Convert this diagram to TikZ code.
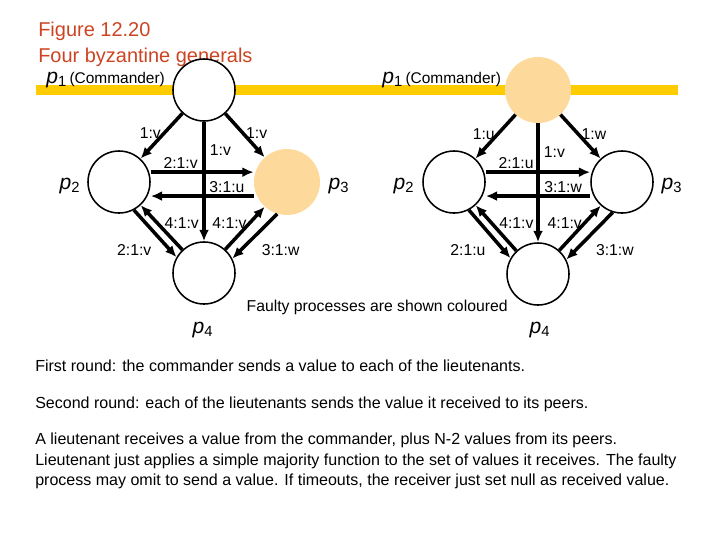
\documentclass[tikz,border=0pt]{standalone}
\usepackage{fontspec}
\setmainfont{Liberation Sans}
\usetikzlibrary{arrows.meta,positioning}
\definecolor{titlered}{RGB}{204,68,34}
\definecolor{bargold}{RGB}{255,204,0}
\definecolor{faultfill}{RGB}{253,218,155}
\begin{document}
\begin{tikzpicture}[x=0.025cm, y=-0.025cm, >={Latex[length=8pt,width=7pt]},
    proc/.style={draw, circle, line width=1.1pt, fill=white, minimum size=1.55cm, inner sep=0pt},
    faulty/.style={circle, fill=faultfill, minimum size=1.65cm, inner sep=0pt},
    msg/.style={->, line width=2.5pt},
    lbl/.style={font=\fontsize{11.2}{13}\selectfont, inner sep=1pt},
    pname/.style={font=\fontsize{15}{17}\selectfont, inner sep=0pt},
    txt/.style={font=\fontsize{11.4}{14.6}\selectfont, align=left, anchor=west, inner sep=0pt}]
    \useasboundingbox (0,0) rectangle (720,540);
    % Title
    \node[anchor=west, text=titlered, font=\fontsize{14.2}{16}\selectfont, inner sep=0pt] (fig) at (38,31) {Figure 12.20};
    \node[anchor=west, text=titlered, font=\fontsize{14.2}{16}\selectfont, inner sep=0pt] (title) at (38,57) {Four byzantine generals};
    % Commander bar
    \draw[bargold, line width=7pt] (36,90) -- (678,90);
    % Left: faulty lieutenant p3
    \node[proc] (L1) at (204,90) {};
    \node[proc] (L2) at (119,182) {};
    \node[faulty] (L3) at (287,182) {};
    \node[proc] (L4) at (204,273) {};
    \node[anchor=west, inner sep=0pt] (L1name) at (46,80) {\fontsize{15}{17}\selectfont\textit{p}\textsubscript{1}\fontsize{11}{13}\selectfont\,(Commander)};
    \node[pname] (L2name) at (70,186) {\textit{p}\textsubscript{2}};
    \node[pname] (L3name) at (339,186) {\textit{p}\textsubscript{3}};
    \node[pname] (L4name) at (203,330) {\textit{p}\textsubscript{4}};
    % Left: messages
    \draw[msg] (L1) -- node[lbl, pos=0.44, left] {1:v} (L2);
    \draw[msg] (L1) -- node[lbl, pos=0.45, right] {1:v} (L3);
    \draw[msg] (L1) -- node[lbl, pos=0.24, right=2pt] {1:v} (L4);
    \draw[msg] ([yshift=7pt]L2.east) -- node[lbl, pos=0.29, above] {2:1:v} ([yshift=7pt]L3.west);
    \draw[msg] ([yshift=-10pt]L3.west) -- node[lbl, pos=0.26, above] {3:1:u} ([yshift=-10pt]L2.east);
    \draw[msg] (L2.-62) -- node[lbl, pos=0.84, left=10.8pt] {2:1:v} (L4.150);
    \draw[msg] (L4.133) -- node[lbl, pos=0.6, right=3pt] {4:1:v} (L2.-47);
    \draw[msg] (L4.48) -- node[lbl, pos=0.62, left] {4:1:v} (L3.-132);
    \draw[msg] (L3.-107) -- node[lbl, pos=0.8, right=12.3pt] {3:1:w} (L4.27);
    % Right: faulty commander p1
    \node[faulty] (R1) at (538,90) {};
    \node[proc] (R2) at (454,182) {};
    \node[proc] (R3) at (622,182) {};
    \node[proc] (R4) at (538,274) {};
    \node[anchor=west, inner sep=0pt] (R1name) at (382,80) {\fontsize{15}{17}\selectfont\textit{p}\textsubscript{1}\fontsize{11}{13}\selectfont\,(Commander)};
    \node[pname] (R2name) at (404,186) {\textit{p}\textsubscript{2}};
    \node[pname] (R3name) at (672,186) {\textit{p}\textsubscript{3}};
    \node[pname] (R4name) at (540,330) {\textit{p}\textsubscript{4}};
    % Right: messages
    \draw[msg] (R1) -- node[lbl, pos=0.44, left] {1:u} (R2);
    \draw[msg] (R1) -- node[lbl, pos=0.45, right] {1:w} (R3);
    \draw[msg] (R1) -- node[lbl, pos=0.24, right=2pt] {1:v} (R4);
    \draw[msg] ([yshift=7pt]R2.east) -- node[lbl, pos=0.29, above] {2:1:u} ([yshift=7pt]R3.west);
    \draw[msg] ([yshift=-10pt]R3.west) -- node[lbl, pos=0.26, above] {3:1:w} ([yshift=-10pt]R2.east);
    \draw[msg] (R2.-62) -- node[lbl, pos=0.84, left=10.8pt] {2:1:u} (R4.150);
    \draw[msg] (R4.133) -- node[lbl, pos=0.6, right=3pt] {4:1:v} (R2.-47);
    \draw[msg] (R4.48) -- node[lbl, pos=0.62, left] {4:1:v} (R3.-132);
    \draw[msg] (R3.-107) -- node[lbl, pos=0.8, right=12.3pt] {3:1:w} (R4.27);
    % Notes
    \node[lbl, anchor=west] (note) at (245,307) {Faulty processes are shown coloured};
    \node[txt] (round1) at (35,366) {First round: the commander sends a value to each of the lieutenants.};
    \node[txt] (round2) at (35,404) {Second round: each of the lieutenants sends the value it received to its peers.};
    \node[txt] (rule) at (35,461) {A lieutenant receives a value from the commander, plus N-2 values from its peers.\\
        Lieutenant just applies a simple majority function to the set of values it receives. The faulty\\
        process may omit to send a value. If timeouts, the receiver just set null as received value.};
\end{tikzpicture}
\end{document}
